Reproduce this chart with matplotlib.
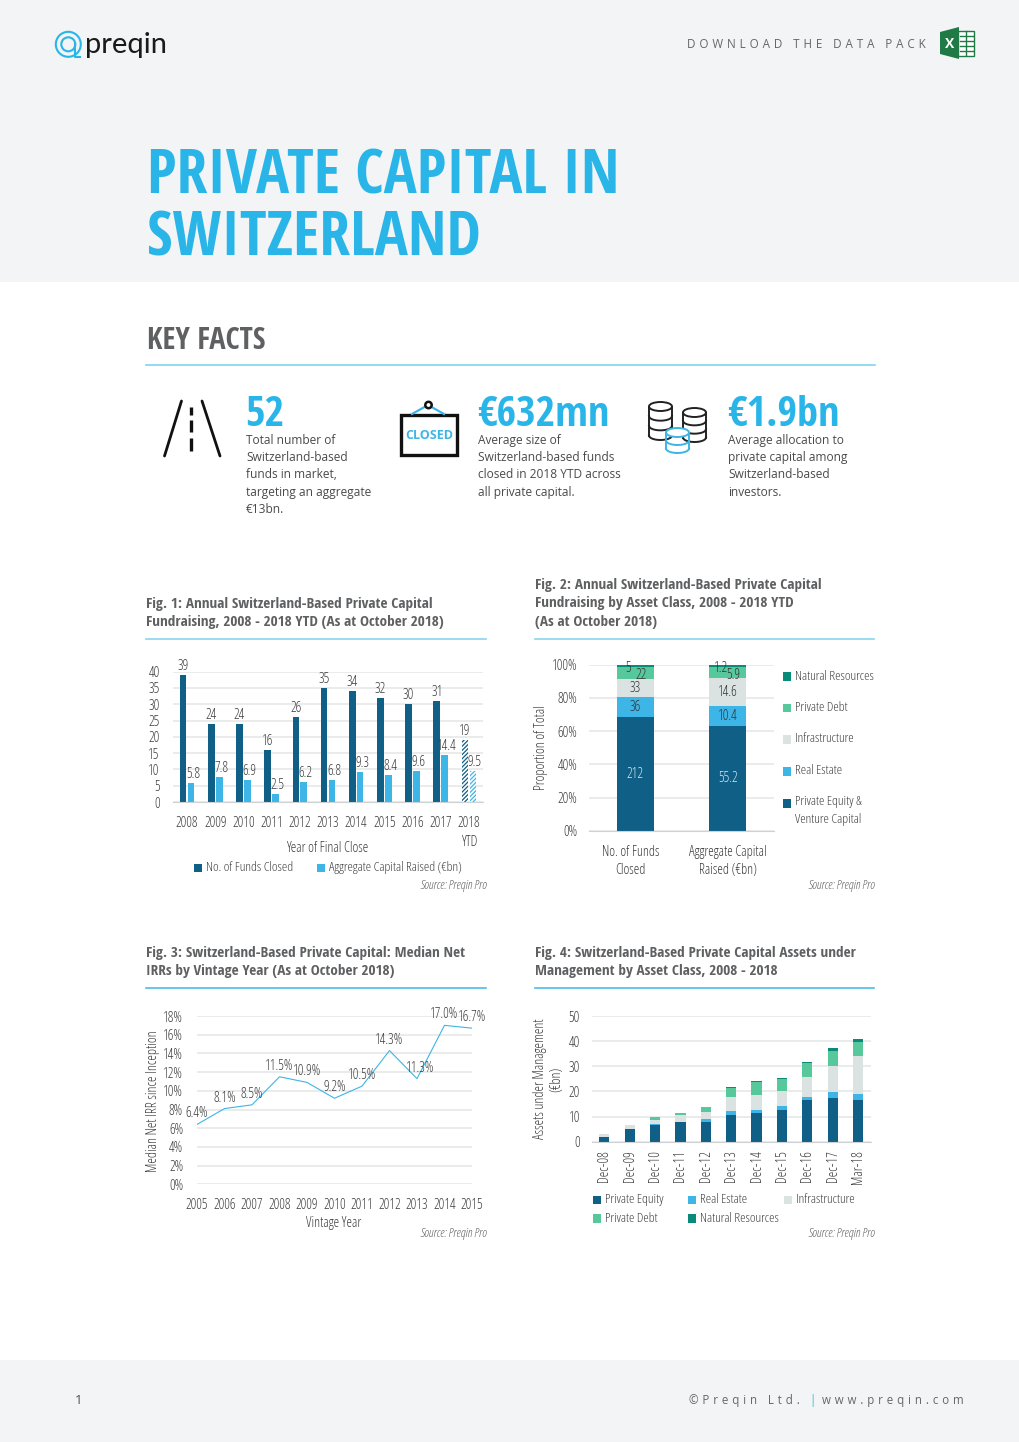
import glob

import matplotlib
matplotlib.use("Agg")
import matplotlib.pyplot as plt
from matplotlib import font_manager as fm
from matplotlib.patches import Rectangle, Circle, Ellipse, Polygon
import numpy as np
from fontTools.ttLib import TTFont
from fontTools.varLib import instancer

W, H = 1020, 1442


def condensed_font(pattern, family):
    # the light condensed cut is only reachable through the variable Open Sans
    src = glob.glob("/usr/share/fonts/**/" + pattern, recursive=True)[0]
    f = instancer.instantiateVariableFont(TTFont(src), {"wght": 300, "wdth": 75})
    name = f["name"]
    name.names = [n for n in name.names if n.nameID not in (16, 17, 21, 22, 25)]
    for n in list(name.names):
        if n.nameID in (1, 4):
            name.setName(family, n.nameID, n.platformID, n.platEncID, n.langID)
    path = family.replace(" ", "") + ".ttf"
    f.save(path)
    fm.fontManager.addfont(path)


try:
    condensed_font("OpenSans[[]wdth,wght].ttf", "Cond Light")
    condensed_font("OpenSans-Italic[[]wdth,wght].ttf", "Cond Light Italic")
    NARROW = ["Cond Light", "DejaVu Sans"]
    NARROW_IT = ["Cond Light Italic", "DejaVu Sans"]
except Exception:
    NARROW = ["Fira Sans Extra Condensed", "DejaVu Sans"]
    NARROW_IT = NARROW

COND_BOLD = ["Open Sans Condensed", "DejaVu Sans"]
BODY = ["Open Sans", "DejaVu Sans"]
plt.rcParams["font.family"] = NARROW

DARK = "#0f5f86"
LIGHT = "#3db5e6"
INFRA = "#dbe3e2"
DEBT = "#57c79c"
NATRES = "#0a8a78"
CYAN = "#29b5e8"
GREY = "#5f6062"
TXT = "#3c3c3e"
GRID = "#e4e6e6"
FS = 10

# fig 1
years1 = ["2008", "2009", "2010", "2011", "2012", "2013", "2014", "2015", "2016", "2017", "2018\nYTD"]
funds_closed = [39, 24, 24, 16, 26, 35, 34, 32, 30, 31, 19]
capital_raised = [5.8, 7.8, 6.9, 2.5, 6.2, 6.8, 9.3, 8.4, 9.6, 14.4, 9.5]

# fig 2
classes2 = ["Private Equity &\nVenture Capital", "Real Estate", "Infrastructure", "Private Debt", "Natural Resources"]
no_funds = [212, 36, 33, 22, 5]
agg_capital = ["55.2", "10.4", "14.6", "5.9", "1.2"]

# fig 3
vintage = [2005, 2006, 2007, 2008, 2009, 2010, 2011, 2012, 2013, 2014, 2015]
median_irr = [6.4, 8.1, 8.5, 11.5, 10.9, 9.2, 10.5, 14.3, 11.3, 17.0, 16.7]

# fig 4
dates4 = ["Dec-08", "Dec-09", "Dec-10", "Dec-11", "Dec-12", "Dec-13", "Dec-14", "Dec-15", "Dec-16", "Dec-17", "Mar-18"]
aum_pe = [1.8, 5.0, 6.7, 7.8, 7.8, 10.6, 11.4, 12.7, 16.6, 17.4, 16.6]
aum_re = [0, 0, 0.2, 0.2, 1.2, 1.6, 1.3, 1.5, 1.2, 2.4, 2.4]
aum_infra = [1.4, 1.6, 1.6, 2.5, 3.0, 5.6, 5.8, 6.1, 8.0, 10.5, 15.0]
aum_debt = [0, 0, 1.3, 1.0, 1.8, 3.6, 5.1, 4.8, 5.5, 5.8, 5.5]
aum_nat = [0, 0, 0.1, 0.1, 0.1, 0.2, 0.5, 0.2, 0.3, 1.2, 1.2]

fig = plt.figure(figsize=(W / 100, H / 100), dpi=100, facecolor="white")

# page layer in pixel coordinates
bg = fig.add_axes([0, 0, 1, 1])
bg.set_xlim(0, W)
bg.set_ylim(H, 0)
bg.axis("off")


def text(x, y, s, size, color=TXT, ha="left", va="center", **kw):
    return bg.text(x, y, s, fontsize=size, color=color, ha=ha, va=va, **kw)


def spaced(s):
    return "\u2004".join(s)


bg.add_patch(Rectangle((0, 0), W, 282, fc="#f2f4f6", ec="none"))
bg.add_patch(Rectangle((0, 1360), W, 82, fc="#f2f4f6", ec="none"))

# logo
bg.add_patch(Circle((68.3, 44.3), 12.5, fc="none", ec=CYAN, lw=1.5))
bg.add_patch(Circle((68.3, 44.3), 7, fc="none", ec=CYAN, lw=1.5))
bg.plot([75.3, 75.3, 80], [44.3, 56.5, 56.5], color=CYAN, lw=1.5)
text(85.5, 52.7, "preqin", 21, color="#1a1a1a", va="baseline", family=["Lato", "DejaVu Sans"])

# download link and excel icon
text(926, 45, spaced("DOWNLOAD THE DATA PACK"), 8.4, color="#666668", ha="right", family=BODY)
bg.add_patch(Rectangle((958, 30.5), 16, 25, fc="white", ec="#1f7a45", lw=1))
for gy in [35.5, 40.5, 45.5, 50.5]:
    bg.plot([960, 973], [gy, gy], color="#1f7a45", lw=1)
bg.plot([966, 966], [31, 55], color="#1f7a45", lw=1)
bg.add_patch(Polygon([(940, 32), (959, 27), (959, 59), (940, 54)], fc="#1f7a45", ec="none"))
text(949.5, 43.5, "X", 10, color="white", ha="center", weight="bold", family=BODY)

# title
text(147, 194, "PRIVATE CAPITAL IN", 44.5, color=CYAN, weight="bold", va="baseline", family=COND_BOLD)
text(147, 255, "SWITZERLAND", 44.5, color=CYAN, weight="bold", va="baseline", family=COND_BOLD)

# key facts
text(147, 349, "KEY FACTS", 22, color=GREY, weight="bold", va="baseline", family=COND_BOLD)
bg.plot([146, 875], [365, 365], color="#7fd4ee", lw=1.2)

for sx, s in zip([245, 477, 727], ["52", "€632mn", "€1.9bn"]):
    text(sx, 425.5, s, 30.4, color=CYAN, weight="bold", va="baseline", family=COND_BOLD)

body_x = [246, 478, 728]
body_lines = [
    ["Total number of", "Switzerland-based", "funds in market,", "targeting an aggregate", "€13bn."],
    ["Average size of", "Switzerland-based funds", "closed in 2018 YTD across", "all private capital."],
    ["Average allocation to", "private capital among", "Switzerland-based", "investors."],
]
for bx, lines in zip(body_x, body_lines):
    for i, line in enumerate(lines):
        text(bx, 440.5 + i * 17.2, line, 8.6, color="#4a4a4c", family=BODY)

# road icon
bg.plot([181.5, 164.5], [401, 456], color="#111111", lw=2, solid_capstyle="round")
bg.plot([202, 220], [401, 456], color="#111111", lw=2, solid_capstyle="round")
for y0, y1 in [(407, 415), (420, 432), (438, 451)]:
    bg.plot([191.5, 191.5], [y0, y1], color="#111111", lw=2.4, solid_capstyle="butt")

# closed sign icon
bg.plot([412, 428, 444], [414, 405, 414], color=LIGHT, lw=1.6)
bg.add_patch(Circle((428.5, 405), 3.2, fc="white", ec="#111111", lw=1.8, zorder=3))
bg.add_patch(Rectangle((401, 415), 56, 40, fc="white", ec="#111111", lw=2.4))
text(429, 435.5, "CLOSED", 9, color=LIGHT, ha="center", weight="bold", family=BODY)


# coin icons
def coins(x0, x1, y0, y1, n, color):
    cx = (x0 + x1) / 2
    w = x1 - x0
    eh = 9
    bg.add_patch(Ellipse((cx, y0 + eh / 2), w, eh, fc="white", ec=color, lw=1.4, zorder=3))
    for t in np.linspace(y0 + eh / 2, y1 - eh / 2, n + 1)[1:]:
        xs = np.linspace(-1, 1, 40)
        bg.plot(cx + xs * w / 2, t + np.sqrt(1 - xs ** 2) * eh / 2, color=color, lw=1.4, zorder=3)
    bg.plot([x0, x0], [y0 + eh / 2, y1 - eh / 2], color=color, lw=1.4, zorder=3)
    bg.plot([x1, x1], [y0 + eh / 2, y1 - eh / 2], color=color, lw=1.4, zorder=3)


coins(649, 672, 402, 440, 3, "#222222")
coins(683, 706, 408, 442, 3, "#222222")
bg.add_patch(Rectangle((664, 426), 27, 28, fc="white", ec="none", zorder=2.9))
coins(666, 689, 428, 453, 2, LIGHT)


def caption(x, ys, lines, rule_x, rule_y, rule_c):
    for y, line in zip(ys, lines):
        text(x + 0.5, y + 1, line, 11, color=GREY, weight="bold", family=COND_BOLD)
    bg.plot(rule_x, [rule_y, rule_y], color=rule_c, lw=1.2)


caption(146, [603, 621], ["Fig. 1: Annual Switzerland-Based Private Capital",
                          "Fundraising, 2008 - 2018 YTD (As at October 2018)"], [146, 486], 639, "#8ad6ee")
caption(535, [584, 602, 621], ["Fig. 2: Annual Switzerland-Based Private Capital",
                               "Fundraising by Asset Class, 2008 - 2018 YTD",
                               "(As at October 2018)"], [535, 874], 639, "#8ad6ee")
caption(146, [952, 970], ["Fig. 3: Switzerland-Based Private Capital: Median Net",
                          "IRRs by Vintage Year (As at October 2018)"], [146, 486], 988, "#4dbce6")
caption(535, [952, 970], ["Fig. 4: Switzerland-Based Private Capital Assets under",
                          "Management by Asset Class, 2008 - 2018"], [535, 874], 988, "#4dbce6")

for x, y in [(487, 885), (875, 885), (487, 1234), (875, 1234)]:
    text(x, y, "Source: Preqin Pro", 8.9, color="#5a5a5c", ha="right", family=NARROW_IT)


def legend_item(x, y, color, label, size=9.65):
    bg.add_patch(Rectangle((x, y - 4), 8.5, 8.5, fc=color, ec="none"))
    return text(x + 12.5, y, label, size, linespacing=1.45)


def chart_axes(left, right, top, bottom, pad):
    ax = fig.add_axes([left / W, 1 - bottom / H, (right - left) / W, (bottom - top) / H])
    ax.patch.set_alpha(0)
    for s in ["top", "right", "left"]:
        ax.spines[s].set_visible(False)
    ax.spines["bottom"].set_color("#cfd2d2")
    ax.set_axisbelow(True)
    ax.yaxis.grid(True, color=GRID, lw=1.1)
    ax.tick_params(length=0, labelsize=FS, labelcolor=TXT)
    ax.tick_params(axis="y", pad=pad)
    return ax


# Fig. 1
ax1 = chart_axes(173, 483, 671.7, 802, 9.5)
pos1 = np.arange(len(years1))
plt.rcParams["hatch.linewidth"] = 0.9
b1 = ax1.bar(pos1 - 0.14, funds_closed, 0.235, color=DARK)
b2 = ax1.bar(pos1 + 0.14, capital_raised, 0.235, color=LIGHT)
b1[-1].set(facecolor="white", edgecolor=DARK, hatch="////////", linewidth=0)
b2[-1].set(facecolor="white", edgecolor=LIGHT, hatch="////////", linewidth=0)
ax1.set_xlim(-0.5, 10.5)
ax1.set_ylim(0, 40)
ax1.set_yticks(range(0, 41, 5))
ax1.set_xticks(pos1)
ax1.set_xticklabels(years1, linespacing=1.5, va="top")
ax1.tick_params(axis="x", pad=10)
for x, v in zip(pos1, funds_closed):
    ax1.annotate(str(v), (x - 0.14, v), xytext=(0, 9), textcoords="offset pixels",
                 ha="center", va="center", fontsize=FS, color=TXT)
for x, v in zip(pos1, capital_raised):
    ax1.annotate(str(v), (x + 0.14, v), xytext=(2, 9), textcoords="offset pixels",
                 ha="center", va="center", fontsize=FS, color=TXT)
ax1.set_xlabel("Year of Final Close", fontsize=FS, color=TXT, va="center")
ax1.xaxis.set_label_coords(327, 847.5, transform=bg.transData)
legend_item(194, 867.5, DARK, "No. of Funds Closed")
legend_item(317, 867.5, LIGHT, "Aggregate Capital Raised (€bn)")

# Fig. 2
ax2 = chart_axes(589, 774, 664.7, 831, 8.5)
colors2 = [DARK, LIGHT, INFRA, DEBT, NATRES]
shift_px = [0, 0, 0, 6, -7]
cols2 = [no_funds, [float(v) for v in agg_capital]]
labels2 = [[str(v) for v in no_funds], agg_capital]
for i, (col, labs) in enumerate(zip(cols2, labels2)):
    shares = 100 * np.array(col, dtype=float) / sum(col)
    base = 0
    for j, (s, lab) in enumerate(zip(shares, labs)):
        ax2.bar(i, s, 0.4, bottom=base, color=colors2[j])
        dy = -2 if j >= 3 else 0
        ax2.annotate(lab, (i, base + s / 2), xytext=(shift_px[j], dy), textcoords="offset pixels",
                     ha="center", va="center", fontsize=FS,
                     color="#d9e6ee" if j == 0 else "#333335")
        base += s
ax2.set_xlim(-0.5, 1.5)
ax2.set_ylim(0, 100)
ax2.set_yticks(range(0, 101, 20))
ax2.set_yticklabels([f"{v}%" for v in range(0, 101, 20)])
ax2.set_xticks([-0.05, 1])
ax2.set_xticklabels(["No. of Funds\nClosed", "Aggregate Capital\nRaised (€bn)"], linespacing=1.35)
ax2.tick_params(axis="x", pad=10)
ax2.set_ylabel("Proportion of Total", fontsize=FS, color=TXT, va="center")
ax2.yaxis.set_label_coords(541, 748, transform=bg.transData)
for y, c, lab in zip([676, 707.5, 739, 771, 803], colors2[::-1], classes2[::-1]):
    last = legend_item(783, y, c, lab)
last.set_verticalalignment("top")
last.set_y(795)

# Fig. 3
ax3 = chart_axes(197, 472, 1016, 1184.3, 10)
ax3.plot(vintage, median_irr, color=LIGHT, lw=0.8)
ax3.set_xlim(2005, 2015)
ax3.set_ylim(0, 18)
ax3.set_yticks(range(0, 19, 2))
ax3.set_yticklabels([f"{v}%" for v in range(0, 19, 2)])
ax3.set_xticks(vintage)
ax3.tick_params(axis="x", pad=10)
ax3.spines["bottom"].set_visible(False)
for v, r in zip(vintage, median_irr):
    ax3.annotate(f"{r:.1f}%", (v, r), xytext=(3 if v == 2013 else 0, 11), textcoords="offset pixels",
                 ha="center", va="center", fontsize=FS, color=TXT, annotation_clip=False)
ax3.set_xlabel("Vintage Year", fontsize=FS, color=TXT, va="center")
ax3.xaxis.set_label_coords(334, 1222.5, transform=bg.transData)
ax3.set_ylabel("Median Net IRR since Inception", fontsize=FS, color=TXT, va="center")
ax3.yaxis.set_label_coords(153, 1101, transform=bg.transData)

# Fig. 4
ax4 = chart_axes(591.7, 870.7, 1016, 1141.7, 8.5)
pos4 = np.arange(len(dates4))
series4 = [aum_pe, aum_re, aum_infra, aum_debt, aum_nat]
base4 = np.zeros(len(dates4))
for vals, c in zip(series4, colors2):
    ax4.bar(pos4, vals, 0.4, bottom=base4, color=c)
    base4 += np.array(vals)
ax4.set_xlim(-0.5, 10.5)
ax4.set_ylim(0, 50)
ax4.set_yticks(range(0, 51, 10))
ax4.set_xticks(pos4)
ax4.set_xticklabels(dates4, rotation=90)
ax4.tick_params(axis="x", pad=6)
ax4.set_ylabel("Assets under Management\n(€bn)", fontsize=FS, color=TXT, va="center", linespacing=1.15)
ax4.yaxis.set_label_coords(548, 1079, transform=bg.transData)
legend_item(593, 1199.5, DARK, "Private Equity")
legend_item(688, 1199.5, LIGHT, "Real Estate")
legend_item(784, 1199.5, INFRA, "Infrastructure")
legend_item(593, 1218, DEBT, "Private Debt")
legend_item(688, 1218, NATRES, "Natural Resources")

# footer
text(75, 1400, "1", 9.5, color="#4a4a4c", family=BODY)
text(800, 1400.5, spaced("©Preqin Ltd."), 8.3, color="#666668", ha="right", family=BODY)
text(812, 1400.5, "|", 8.3, color=CYAN, ha="center", family=BODY)
text(964, 1400.5, spaced("www.preqin.com"), 8.3, color="#666668", ha="right", family=BODY)

fig.savefig("out.png", dpi=100)
